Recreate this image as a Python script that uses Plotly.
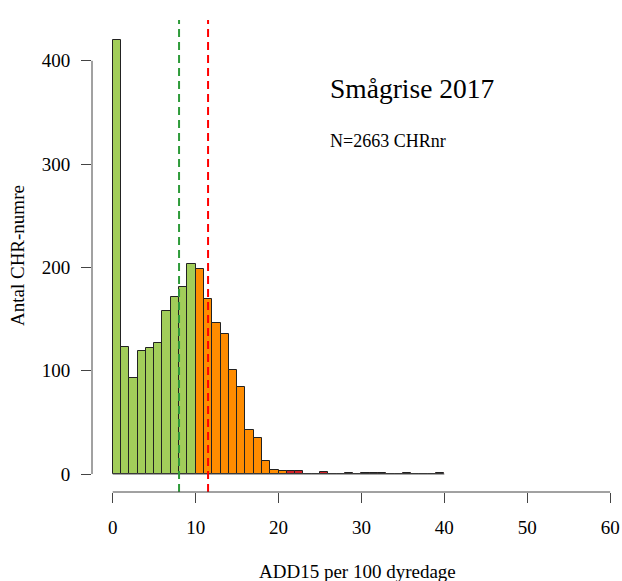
import plotly.graph_objects as go

# ---- data ----
bin_left = list(range(0, 40))          # histogram bins of width 1, 0..40
counts = [420, 123, 93, 119, 122, 127, 158, 171, 181, 203,
          198, 169, 146, 136, 101, 84, 43, 35, 13, 4,
          3, 3, 3, 0, 0, 2, 0, 0, 1, 0,
          1, 1, 1, 0, 0, 1, 0, 0, 0, 1]
bin_width = 1
green_limit = 10      # bins below this are green
red_limit = 21        # bins from this are red
line_green = 8.0
line_red = 11.5
x_ticks = [0, 10, 20, 30, 40, 50, 60]
y_ticks = [0, 100, 200, 300, 400]
title_text = "Smågrise 2017"
n_text = "N=2663 CHRnr"
x_title = "ADD15 per 100 dyredage"
y_title = "Antal CHR-numre"

GREEN = "#A2CD5A"
ORANGE = "#FF8C00"
RED = "#D42027"
FONT = "Liberation Serif, Times New Roman, serif"

colors = []
for b in bin_left:
    if b < green_limit:
        colors.append(GREEN)
    elif b < red_limit:
        colors.append(ORANGE)
    else:
        colors.append(RED)

centers = [b + bin_width / 2 for b in bin_left]

fig = go.Figure()
# baseline for empty bins (R draws zero-height rectangles as lines)
fig.add_trace(go.Scatter(x=[bin_left[0], bin_left[-1] + bin_width], y=[0, 0],
                         mode="lines", line=dict(color="#555555", width=1),
                         hoverinfo="skip", showlegend=False))
fig.add_trace(go.Bar(x=centers, y=counts, width=[bin_width] * len(counts),
                     marker=dict(color=colors, line=dict(color="#222222", width=1)),
                     showlegend=False))

# dashed reference lines
for xv, col in [(line_green, "#2E9B3A"), (line_red, "#FF0000")]:
    fig.add_shape(type="line", xref="x", yref="paper", x0=xv, x1=xv, y0=0, y1=1,
                  line=dict(color=col, width=2, dash="8px,5px"), layer="above")

# R-style axis lines spanning first to last tick
fig.add_shape(type="line", xref="x", yref="paper", x0=x_ticks[0], x1=x_ticks[-1],
              y0=0, y1=0, line=dict(color="#444444", width=1))
fig.add_shape(type="line", xref="paper", yref="y", x0=0, x1=0,
              y0=y_ticks[0], y1=y_ticks[-1], line=dict(color="#444444", width=1))

fig.add_annotation(x=26, y=373, xref="x", yref="y", text=title_text, showarrow=False,
                   xanchor="left", yanchor="middle", font=dict(family=FONT, size=27.5, color="black"))
fig.add_annotation(x=26, y=322, xref="x", yref="y", text=n_text, showarrow=False,
                   xanchor="left", yanchor="middle", font=dict(family=FONT, size=18, color="black"))
fig.add_annotation(x=0.5, y=-0.169, xref="paper", yref="paper", text=x_title, showarrow=False,
                   xanchor="center", yanchor="middle", font=dict(family=FONT, size=19, color="black"))
fig.add_annotation(x=-0.1415, y=0.5, xref="paper", yref="paper", text=y_title, showarrow=False,
                   textangle=-90, xanchor="center", yanchor="middle",
                   font=dict(family=FONT, size=19, color="black"))

fig.update_layout(
    width=622, height=581,
    margin=dict(l=92, r=0, t=20, b=89),
    plot_bgcolor="white", paper_bgcolor="white",
    bargap=0,
    font=dict(family=FONT, size=19, color="black"),
    xaxis=dict(range=[-2.5, 61.43], tickvals=x_ticks, ticks="outside", ticklen=10,
               tickcolor="#444444", showgrid=False, zeroline=False, showline=False,
               ticklabelstandoff=8, tickfont=dict(family=FONT, size=19, color="black")),
    yaxis=dict(range=[-17.4, 439.5], tickvals=y_ticks, ticks="outside", ticklen=10,
               tickcolor="#444444", showgrid=False, zeroline=False, showline=False,
               ticklabelstandoff=7, tickfont=dict(family=FONT, size=19, color="black")),
)

fig.write_html("out.html",
               config={"displayModeBar": False},
               post_script="document.body.style.margin='0';document.body.style.overflow='hidden';")
